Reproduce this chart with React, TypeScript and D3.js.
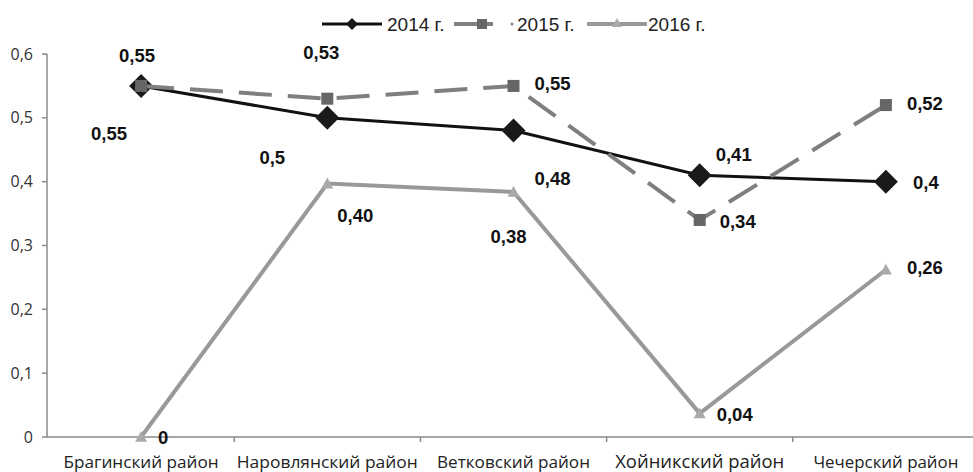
import React from 'react';
import * as d3 from 'd3';

const categories = ['Брагинский район', 'Наровлянский район', 'Ветковский район', 'Хойникский район', 'Чечерский район'];
const values2014 = [0.55, 0.5, 0.48, 0.41, 0.4];
const values2015 = [0.55, 0.53, 0.55, 0.34, 0.52];
const values2016 = [0, 0.397, 0.384, 0.037, 0.262];
const seriesNames = ['2014 г.', '2015 г.', '2016 г.'];
const yTickValues = [0, 0.1, 0.2, 0.3, 0.4, 0.5, 0.6];

// label placement offsets (layout only)
const labelOffsets2014 = [[-32, 48], [-55, 40], [39, 48], [34, -21], [40, 1]];
const labelOffsets2015 = [[-4, -30], [-6, -46], [39, -2], [38, 2], [39, -2]];
const labelOffsets2016 = [[22, 1], [28, 32], [-5, 45], [35, 1], [39, -2]];
const catLabelWidths = [155, 181, 153, 169, 145];

const W = 973;
const H = 472;

const fmtGeneral = (v: number) => d3.format('~g')(v).replace('.', ',');
const fmt2 = (v: number) => d3.format('.2f')(v).replace('.', ',');

export default function App() {
  const x = d3.scaleBand<string>().domain(categories).range([48, 979]);
  const cx = (c: string) => (x(c) as number) + x.bandwidth() / 2;
  const y = d3.scaleLinear().domain([0, 0.6]).range([437, 54]);

  const line = d3
    .line<number>()
    .x((_, i) => cx(categories[i]))
    .y((d) => y(d));

  const diamond = (px: number, py: number, r: number) =>
    `M${px},${py - r}L${px + r},${py}L${px},${py + r}L${px - r},${py}Z`;
  const triangle = (px: number, py: number, r: number) =>
    `M${px},${py - r}L${px + r},${py + r * 0.8}L${px - r},${py + r * 0.8}Z`;

  const labelFont = { fontFamily: 'Liberation Sans, Arial, sans-serif', fontWeight: 700, fontSize: 18.5, fill: '#111' } as const;

  const xTickPositions = categories.slice(1).map((c) => x(c) as number);

  return (
    <svg width={W} height={H} style={{ position: 'absolute', left: 0, top: 0, background: '#fff' }}>
      <rect x={0} y={0} width={W} height={H} fill="#fff" />
      {/* y axis */}
      <line x1={47} x2={47} y1={y(0.6)} y2={y(0)} stroke="#8a8a8a" strokeWidth={1.5} />
      {yTickValues.map((t) => (
        <g key={t}>
          <line x1={42} x2={47} y1={y(t)} y2={y(t)} stroke="#8a8a8a" strokeWidth={1.5} />
          <text
            x={33}
            y={y(t)}
            dy="0.35em"
            textAnchor="end"
            style={{ fontFamily: 'Open Sans, sans-serif', fontSize: 16, fill: '#333' }}
          >
            {fmtGeneral(t)}
          </text>
        </g>
      ))}
      {/* x axis */}
      <line x1={47} x2={W} y1={y(0)} y2={y(0)} stroke="#8a8a8a" strokeWidth={1.5} />
      {xTickPositions.map((p, i) => (
        <line key={i} x1={p} x2={p} y1={y(0)} y2={y(0) + 5} stroke="#8a8a8a" strokeWidth={1.5} />
      ))}
      {categories.map((c, i) => (
        <text
          key={c}
          x={cx(c)}
          y={468}
          textAnchor="middle"
          textLength={catLabelWidths[i]}
          lengthAdjust="spacingAndGlyphs"
          style={{ fontFamily: 'Open Sans, sans-serif', fontSize: i === 3 ? 18 : 17, fill: '#222' }}
        >
          {c}
        </text>
      ))}

      {/* 2014 */}
      <path d={line(values2014) || ''} fill="none" stroke="#111" strokeWidth={3} />
      {values2014.map((v, i) => (
        <path key={i} d={diamond(cx(categories[i]), y(v), 12)} fill="#1a1a1a" />
      ))}

      {/* 2015 */}
      <path d={line(values2015) || ''} fill="none" stroke="#7f7f7f" strokeWidth={4} strokeDasharray="33 16" />
      {values2015.map((v, i) => (
        <rect key={i} x={cx(categories[i]) - 6} y={y(v) - 6} width={12} height={12} fill="#666" />
      ))}

      {/* 2016 */}
      <path d={line(values2016) || ''} fill="none" stroke="#999" strokeWidth={4} />
      {values2016.map((v, i) => (
        <path key={i} d={triangle(cx(categories[i]), y(v), 6)} fill="#aaa" />
      ))}

      {/* data labels */}
      {values2014.map((v, i) => (
        <text key={'l14' + i} x={cx(categories[i]) + labelOffsets2014[i][0]} y={y(v) + labelOffsets2014[i][1]} dy="0.35em" textAnchor="middle" style={labelFont}>
          {fmtGeneral(v)}
        </text>
      ))}
      {values2015.map((v, i) => (
        <text key={'l15' + i} x={cx(categories[i]) + labelOffsets2015[i][0]} y={y(v) + labelOffsets2015[i][1]} dy="0.35em" textAnchor="middle" style={labelFont}>
          {fmtGeneral(v)}
        </text>
      ))}
      {values2016.map((v, i) => (
        <text key={'l16' + i} x={cx(categories[i]) + labelOffsets2016[i][0]} y={y(v) + labelOffsets2016[i][1]} dy="0.35em" textAnchor="middle" style={labelFont}>
          {v === 0 ? '0' : fmt2(v)}
        </text>
      ))}

      {/* legend */}
      <g style={{ fontFamily: 'Liberation Sans, Arial, sans-serif', fontSize: 19, fill: '#222' }}>
        <line x1={322} x2={382} y1={24} y2={24} stroke="#111" strokeWidth={3} />
        <path d={diamond(352, 24, 6)} fill="#1a1a1a" />
        <text x={387} y={24} dy="0.35em">{seriesNames[0]}</text>

        <line x1={454} x2={493} y1={24} y2={24} stroke="#7f7f7f" strokeWidth={4} />
        <rect x={477} y={19} width={10} height={10} fill="#666" />
        <circle cx={512} cy={24} r={1.5} fill="#7f7f7f" />
        <text x={517} y={24} dy="0.35em">{seriesNames[1]}</text>

        <line x1={587} x2={647} y1={24} y2={24} stroke="#999" strokeWidth={4} />
        <path d={triangle(617, 23, 5)} fill="#aaa" />
        <text x={648} y={24} dy="0.35em">{seriesNames[2]}</text>
      </g>
    </svg>
  );
}
